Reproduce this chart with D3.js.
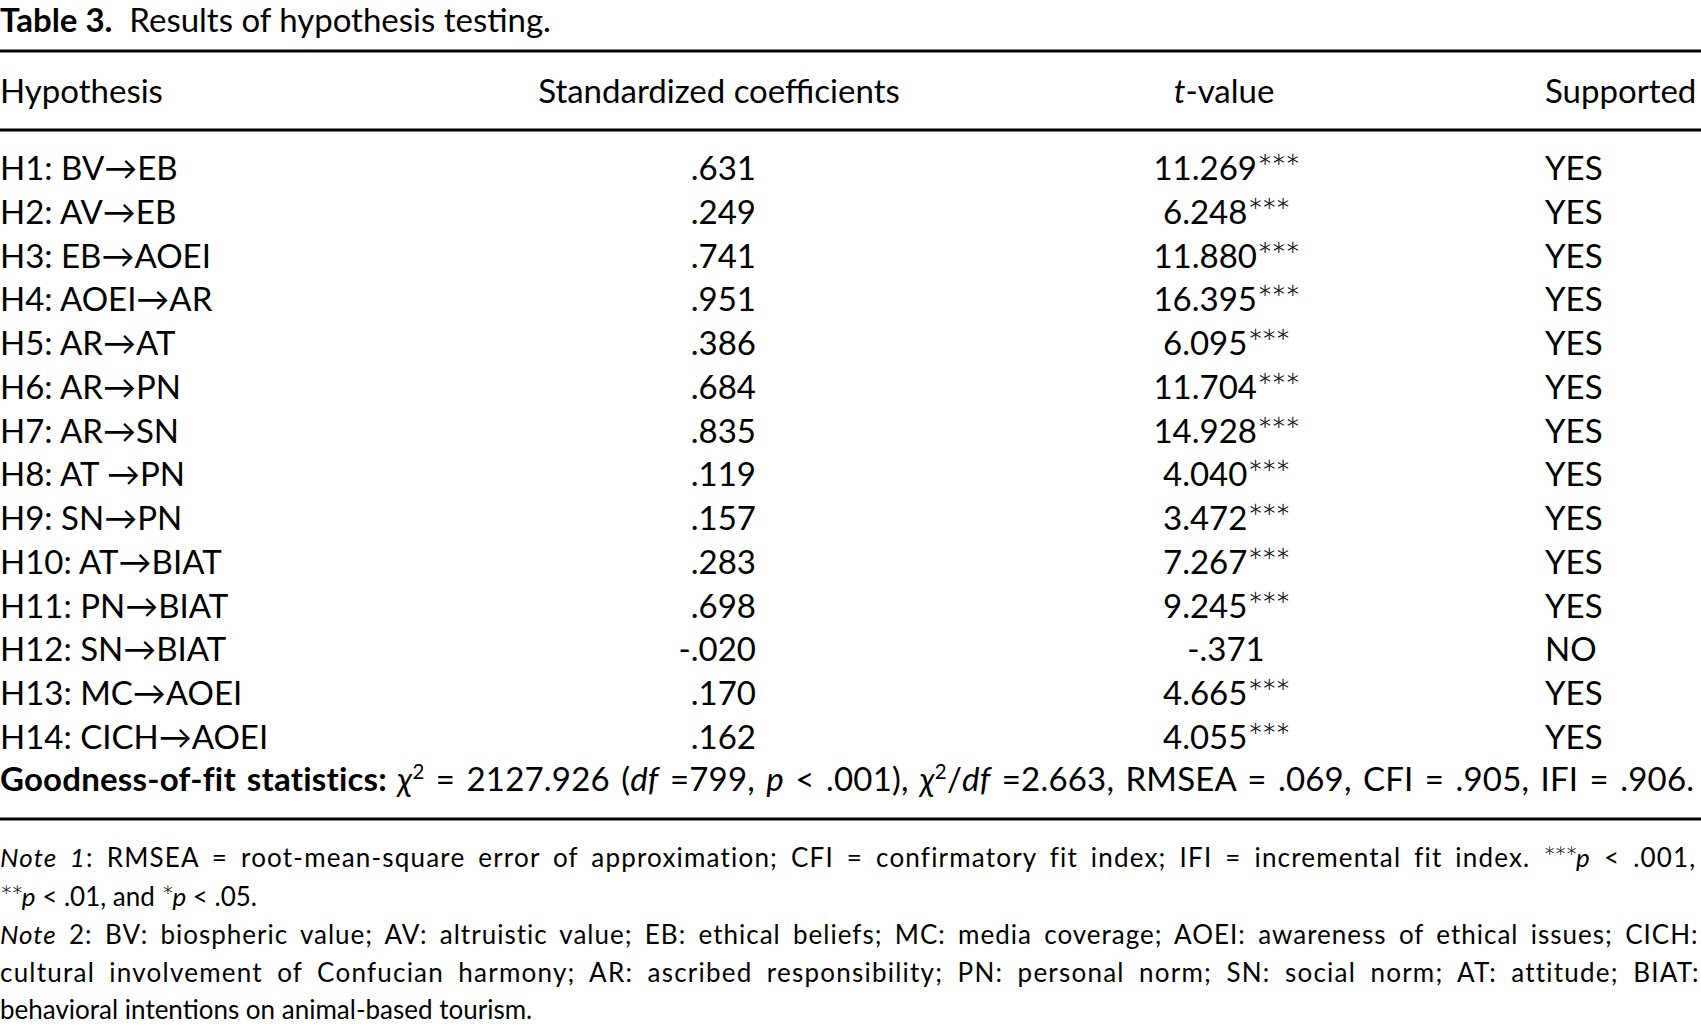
<!DOCTYPE html>
<html>
<head>
<meta charset="utf-8">
<script src="https://cdn.jsdelivr.net/npm/d3@7"></script>
<style>
  html, body { margin: 0; padding: 0; background: #fff; }
  svg { display: block; }
  text { font-family: Lato, "Open Sans", sans-serif; fill: #000; }
</style>
</head>
<body>
<div id="table"></div>
<script>
// table content
var hypotheses = ["H1: BV\u2192EB", "H2: AV\u2192EB", "H3: EB\u2192AOEI", "H4: AOEI\u2192AR",
  "H5: AR\u2192AT", "H6: AR\u2192PN", "H7: AR\u2192SN", "H8: AT \u2192PN", "H9: SN\u2192PN",
  "H10: AT\u2192BIAT", "H11: PN\u2192BIAT", "H12: SN\u2192BIAT", "H13: MC\u2192AOEI", "H14: CICH\u2192AOEI"];
var coefficients = [".631", ".249", ".741", ".951", ".386", ".684", ".835", ".119", ".157",
  ".283", ".698", "-.020", ".170", ".162"];
var tValues = ["11.269", "6.248", "11.880", "16.395", "6.095", "11.704", "14.928", "4.040",
  "3.472", "7.267", "9.245", "-.371", "4.665", "4.055"];
var significance = ["***", "***", "***", "***", "***", "***", "***", "***", "***", "***", "***",
  "", "***", "***"];
var supported = ["YES", "YES", "YES", "YES", "YES", "YES", "YES", "YES", "YES", "YES", "YES",
  "NO", "YES", "YES"];

var width = 1701, height = 1026;
var bodySize = 33, noteSize = 26;

var svg = d3.select("#table").append("svg")
  .attr("width", width)
  .attr("height", height);

// row positions
var y = d3.scalePoint()
  .domain(hypotheses)
  .range([168, 737]);

// asterisks are set in a lighter, bigger cut
function star(t) {
  return t.attr("font-size", "1.15em").attr("font-weight", 300)
    .attr("letter-spacing", "-0.06em").attr("baseline-shift", "-4%");
}

// helper: write a run of styled pieces into one text element
function addRuns(sel, runs) {
  runs.forEach(function (r) {
    var t = sel.append("tspan").text(r.t);
    if (r.b) t.attr("font-weight", "bold");
    if (r.i) t.attr("font-style", "italic");
    if (r.sup) t.attr("font-size", "0.62em").attr("baseline-shift", "super");
    if (r.ast) star(t);
  });
  return sel;
}

// stretch a line to a given width: part letter spacing, part word spacing
function justify(sel, target, share) {
  var txt = sel.text();
  var n = txt.split(" ").length - 1;
  var extra = target - sel.node().getComputedTextLength();
  if (n === 0) return;
  var ls = extra * share / txt.length;
  sel.attr("letter-spacing", ls);
  sel.attr("word-spacing", (extra * (1 - share)) / n);
}

// title
addRuns(svg.append("text").attr("x", 0).attr("y", 32).attr("font-size", bodySize),
  [{ t: "Table 3.", b: true }, { t: "\u00a0 Results of hypothesis testing." }]);

// rules
var rules = [51, 130, 819];
svg.selectAll("line.rule")
  .data(rules)
  .enter().append("line")
  .attr("class", "rule")
  .attr("x1", 0).attr("x2", width)
  .attr("y1", function (d) { return d; })
  .attr("y2", function (d) { return d; })
  .attr("stroke", "#000")
  .attr("stroke-width", 3);

// header
var header = svg.append("g").attr("font-size", bodySize);
header.append("text").attr("x", 0).attr("y", 103).text("Hypothesis");
header.append("text").attr("x", 719).attr("y", 103).attr("text-anchor", "middle")
  .text("Standardized coefficients");
addRuns(header.append("text").attr("x", 1224).attr("y", 103).attr("text-anchor", "middle"),
  [{ t: "t", i: true }, { t: "-value" }]);
header.append("text").attr("x", 1545).attr("y", 103).text("Supported");

// body rows
var rows = svg.selectAll("g.row")
  .data(hypotheses)
  .enter().append("g")
  .attr("class", "row")
  .attr("font-size", bodySize)
  .attr("transform", function (d) { return "translate(0," + (y(d) + 12) + ")"; });

rows.append("text").attr("x", 0).text(function (d) { return d; });
rows.append("text").attr("x", 756).attr("text-anchor", "end")
  .text(function (d, i) { return coefficients[i]; });
rows.append("text").attr("x", 1226).attr("text-anchor", "middle")
  .each(function (d, i) {
    var s = d3.select(this);
    s.append("tspan").text(tValues[i]);
    if (significance[i]) star(s.append("tspan").text(significance[i]));
  });
rows.append("text").attr("x", 1545).text(function (d, i) { return supported[i]; });

// goodness-of-fit line
var fit = addRuns(svg.append("text").attr("x", 0).attr("y", 791).attr("font-size", bodySize), [
  { t: "Goodness-of-fit statistics:", b: true },
  { t: " \u03c7", i: true }, { t: "2", sup: true },
  { t: " = 2127.926 (" }, { t: "df", i: true }, { t: " =799, " }, { t: "p", i: true },
  { t: " < .001), " }, { t: "\u03c7", i: true }, { t: "2", sup: true }, { t: "/" },
  { t: "df", i: true }, { t: " =2.663, RMSEA = .069, CFI = .905, IFI = .906." }
]);
justify(fit, 1695, 0.3);

// notes
var noteLines = [
  { y: 867, full: true, runs: [{ t: "Note 1", i: true },
    { t: ": RMSEA = root-mean-square error of approximation; CFI = confirmatory fit index; IFI = incremental fit index. " },
    { t: "***", ast: true }, { t: "p", i: true }, { t: " < .001," }] },
  { y: 906, full: false, runs: [{ t: "**", ast: true }, { t: "p", i: true }, { t: " < .01, and " },
    { t: "*", ast: true }, { t: "p", i: true }, { t: " < .05." }] },
  { y: 944, full: true, runs: [{ t: "Note", i: true },
    { t: " 2: BV: biospheric value; AV: altruistic value; EB: ethical beliefs; MC: media coverage; AOEI: awareness of ethical issues; CICH:" }] },
  { y: 982, full: true, runs: [
    { t: "cultural involvement of Confucian harmony; AR: ascribed responsibility; PN: personal norm; SN: social norm; AT: attitude; BIAT:" }] },
  { y: 1019, full: false, runs: [{ t: "behavioral intentions on animal-based tourism." }] }
];
noteLines.forEach(function (l) {
  var t = addRuns(svg.append("text").attr("x", 0).attr("y", l.y).attr("font-size", noteSize), l.runs);
  if (l.full) justify(t, 1699, 0.6);
});
</script>
</body>
</html>
